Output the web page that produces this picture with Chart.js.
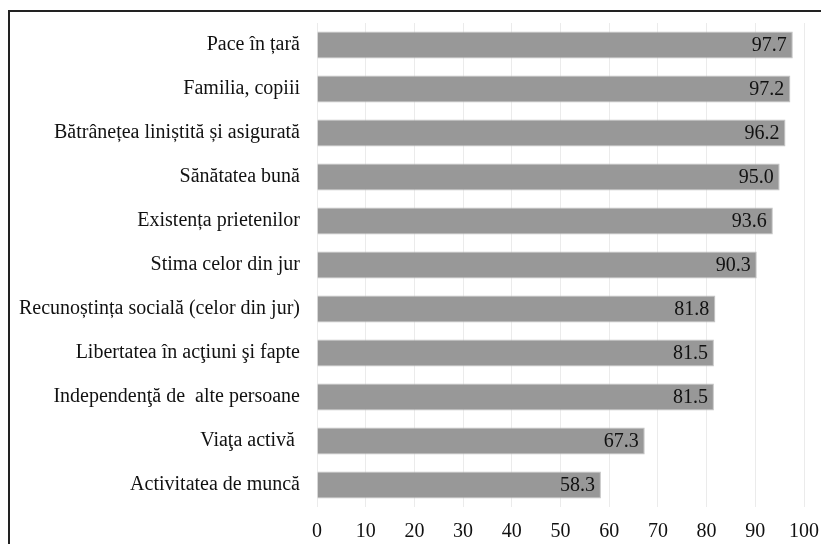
<!DOCTYPE html>
<html>
<head>
<meta charset="utf-8">
<script src="https://cdn.jsdelivr.net/npm/chart.js@4/dist/chart.umd.min.js"></script>
<style>
	html, body { margin: 0; padding: 0; background: #fff; }
	#wrap { position: relative; width: 821px; height: 544px; overflow: hidden; }
	#frame { position: absolute; left: 8px; top: 10px; width: 900px; height: 600px; border-top: 2px solid #222; border-left: 2px solid #222; }
	#c { position: absolute; left: 0; top: 0; }
</style>
</head>
<body>
<div id="wrap">
	<div id="frame"></div>
	<canvas id="c" width="821" height="544"></canvas>
</div>
<script>
var categorii = [
	'Pace în țară',
	'Familia, copiii',
	'Bătrânețea liniștită și asigurată',
	'Sănătatea bună',
	'Existența prietenilor',
	'Stima celor din jur',
	'Recunoștința socială (celor din jur)',
	'Libertatea în acţiuni şi fapte',
	'Independenţă de  alte persoane',
	'Viaţa activă ',
	'Activitatea de muncă'
];
var valori = [97.7, 97.2, 96.2, 95.0, 93.6, 90.3, 81.8, 81.5, 81.5, 67.3, 58.3];
var ticksX = [0, 10, 20, 30, 40, 50, 60, 70, 80, 90, 100];

var FONT = '"Liberation Serif", "Times New Roman", serif';

// value labels inside the bar end
var valueLabels = {
	id: 'valueLabels',
	afterDatasetsDraw: function(chart){
		var ctx = chart.ctx;
		var meta = chart.getDatasetMeta(0);
		ctx.save();
		ctx.font = '20px ' + FONT;
		ctx.fillStyle = '#111';
		ctx.textAlign = 'right';
		ctx.textBaseline = 'middle';
		meta.data.forEach(function(bar, i){
			ctx.fillText(valori[i].toFixed(1), bar.x - 6, bar.y + 1);
		});
		ctx.restore();
	}
};

new Chart(document.getElementById('c'), {
	type: 'bar',
	data: {
		labels: categorii,
		datasets: [{
			data: valori,
			backgroundColor: '#989898',
			borderColor: '#c4c4c4',
			borderWidth: 1,
			barPercentage: 0.61,
			categoryPercentage: 1
		}]
	},
	options: {
		indexAxis: 'y',
		responsive: false,
		animation: false,
		layout: { padding: { top: 23, right: 17, left: 0, bottom: 0 } },
		plugins: {
			legend: { display: false },
			tooltip: { enabled: false }
		},
		scales: {
			x: {
				min: 0,
				max: 100,
				afterBuildTicks: function(scale){
					scale.ticks = ticksX.map(function(v){ return { value: v }; });
				},
				afterFit: function(scale){
					scale.height = 37;
					scale.paddingLeft = 0;
					scale.paddingRight = 0;
				},
				grid: { color: '#ebebeb', lineWidth: 1, drawTicks: false },
				border: { display: false },
				ticks: { color: '#111', font: { family: FONT, size: 20 }, padding: 13, maxRotation: 0 }
			},
			y: {
				afterFit: function(scale){
					scale.width = 317;
					scale.paddingTop = 0;
					scale.paddingBottom = 0;
				},
				grid: { display: false },
				border: { display: false },
				ticks: { color: '#111', font: { family: FONT, size: 20 }, padding: 9, autoSkip: false }
			}
		}
	},
	plugins: [valueLabels]
});
</script>
</body>
</html>
